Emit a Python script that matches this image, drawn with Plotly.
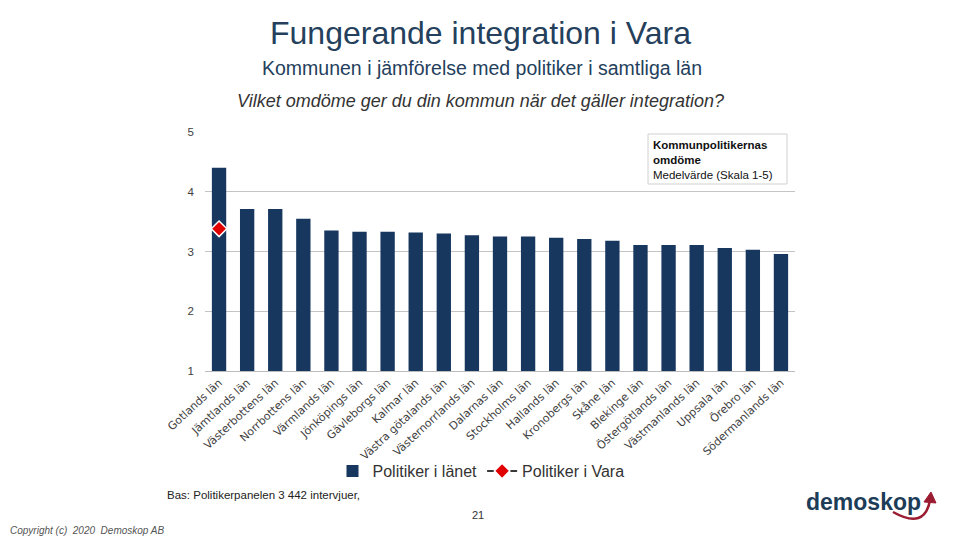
import plotly.graph_objects as go

# ---- data ----
counties = ["Gotlands län", "Jämtlands län", "Västerbottens län", "Norrbottens län",
            "Värmlands län", "Jönköpings län", "Gävleborgs län", "Kalmar län",
            "Västra götalands län", "Västernorrlands län", "Dalarnas län",
            "Stockholms län", "Hallands län", "Kronobergs län", "Skåne län",
            "Blekinge län", "Östergötlands län", "Västmanlands län", "Uppsala län",
            "Örebro län", "Södermanlands län"]
county_values = [4.40, 3.71, 3.71, 3.55, 3.35, 3.33, 3.33, 3.32, 3.30, 3.27, 3.25,
                 3.25, 3.23, 3.21, 3.18, 3.11, 3.11, 3.11, 3.06, 3.03, 2.96]
vara_categories = ["Gotlands län"]
vara_values = [3.38]
y_ticks = [1, 2, 3, 4, 5]

W, H = 960, 540
OFF = 8  # page body margin offset
L, R, T, B = 205, 795, 132, 371  # plot area in page pixels


def px(x):
    return (x - L) / (R - L)


def py(y):
    return (B - y) / (B - T)


fig = go.Figure()
fig.add_trace(go.Bar(x=counties, y=county_values, name="Politiker i länet",
                     marker=dict(color="#17375E", line=dict(width=0))))
fig.add_trace(go.Scatter(x=vara_categories, y=vara_values, name="Politiker i Vara",
                         mode="lines+markers",
                         line=dict(color="#3a3a3a", width=2),
                         marker=dict(symbol="diamond", size=12, color="#E00000",
                                     line=dict(color="white", width=1.5))))


def note(x, y, text, size, color, xanchor="center", yanchor="middle", align="center", family=None):
    f = dict(size=size, color=color)
    if family:
        f["family"] = family
    return dict(x=px(x), y=py(y), xref="paper", yref="paper", text=text,
                font=f, showarrow=False,
                xanchor=xanchor, yanchor=yanchor, align=align)


anns = [
    note(480, 33, "Fungerande integration i Vara", 32, "#24405C"),
    note(482, 68, "Kommunen i jämförelse med politiker i samtliga län", 19.5, "#24405C"),
    note(480, 101, "<i>Vilket omdöme ger du din kommun när det gäller integration?</i>", 18, "#333333"),
    note(651, 137, "<b>Kommunpolitikernas<br>omdöme</b><br>Medelvärde (Skala 1-5)", 11.5, "#111111",
         xanchor="left", yanchor="top", align="left"),
    note(165, 495, "Bas: Politikerpanelen 3 442 intervjuer,", 11.5, "#222222", xanchor="left"),
    note(478, 515, "21", 11, "#333333"),
    note(OFF, 530, "<i>Copyright (c)  2020  Demoskop AB</i>", 10, "#555555", xanchor="left"),
    note(863, 502, "<b>demoskop</b>", 23, "#1D3C57"),
]

shapes = []
shapes.append(dict(type="rect", xref="paper", yref="paper",
                   x0=px(648), x1=px(787), y0=py(184), y1=py(134),
                   line=dict(color="#D0D0D0", width=1), fillcolor="white", layer="above"))
# logo arrow
path = "M {:.4f},{:.4f} Q {:.4f},{:.4f} {:.4f},{:.4f}".format(
    px(893), py(512), px(925), py(530), px(930), py(500))
shapes.append(dict(type="path", xref="paper", yref="paper", path=path,
                   line=dict(color="#9B1B30", width=2.5), layer="above"))
head = "M {:.4f},{:.4f} L {:.4f},{:.4f} L {:.4f},{:.4f} Z".format(
    px(924), py(502), px(931), py(492), px(936), py(503))
shapes.append(dict(type="path", xref="paper", yref="paper", path=head,
                   line=dict(color="#9B1B30", width=1), fillcolor="#9B1B30", layer="above"))

fig.update_layout(
    width=W, height=H,
    margin=dict(l=L - OFF, r=W - (R - OFF), t=T - OFF, b=H - (B - OFF), autoexpand=False),
    paper_bgcolor="white", plot_bgcolor="white",
    font=dict(family="Liberation Sans, Arial, sans-serif", color="#404040"),
    bargap=0.49,
    showlegend=True,
    legend=dict(orientation="h", x=px(481), xanchor="center", y=py(471), yanchor="middle",
                font=dict(size=16, color="#333333"), traceorder="normal",
                itemwidth=30, bgcolor="rgba(0,0,0,0)"),
    annotations=anns,
    shapes=shapes,
)
fig.update_xaxes(range=[-0.5, len(counties) - 0.5], tickangle=-43,
                 tickfont=dict(size=11, color="#404040", family="DejaVu Sans, Verdana, sans-serif"),
                 showline=True, linecolor="#BBBBBB", showgrid=False, ticks="")
fig.update_yaxes(range=[1, 5], tickvals=y_ticks, tickfont=dict(size=11.5, color="#404040"),
                 showgrid=True, gridcolor="#C4C4C4", zeroline=False, showline=False,
                 ticks="", ticklabelstandoff=10)

fig.write_html("out.html")
